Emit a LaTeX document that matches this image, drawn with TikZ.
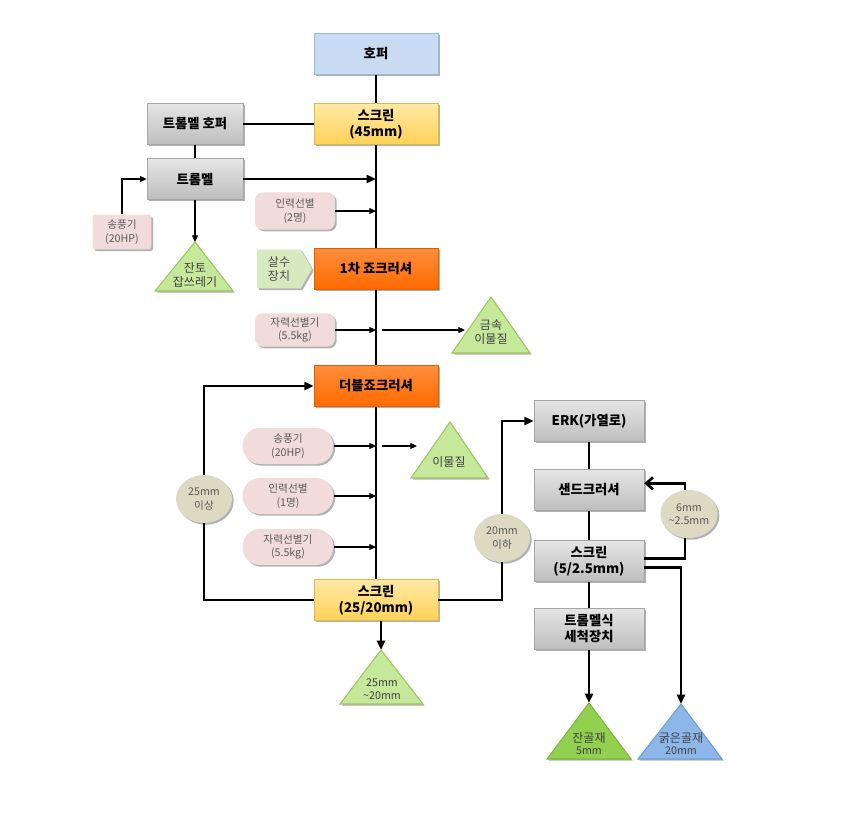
\documentclass[tikz,border=0pt]{standalone}
\usepackage{fontspec}
\setmainfont{Noto Sans CJK KR}
\usetikzlibrary{shapes.geometric,shapes.symbols,arrows.meta,shadows,calc}
\definecolor{gtop}{HTML}{E6E6E6}
\definecolor{gbot}{HTML}{BDBDBD}
\definecolor{gline}{HTML}{A6A6A6}
\definecolor{otop}{HTML}{FF8E3C}
\definecolor{obot}{HTML}{FF6A00}
\definecolor{oline}{HTML}{E06000}
\definecolor{ytop}{HTML}{FFE9A6}
\definecolor{ybot}{HTML}{FFD257}
\definecolor{yline}{HTML}{E0B650}
\definecolor{bfill}{HTML}{C9DBF2}
\definecolor{bline}{HTML}{9DB8DA}
\definecolor{pfill}{HTML}{F2DCDB}
\definecolor{ptext}{HTML}{595959}
\definecolor{tan}{HTML}{DDD9C3}
\definecolor{lgreen}{HTML}{C6E89A}
\definecolor{lgline}{HTML}{9CC65E}
\definecolor{dgreen}{HTML}{92D050}
\definecolor{dgline}{HTML}{7DB83E}
\definecolor{tblue}{HTML}{8DB7E8}
\definecolor{tbline}{HTML}{6E9DD6}
\definecolor{sgreen}{HTML}{D7E9BF}
\tikzset{
  shad/.style={drop shadow={shadow xshift=1.3pt,shadow yshift=-1.3pt,opacity=0.3,fill=black}},
  base/.style={rectangle, minimum width=93pt, minimum height=31pt, align=center,
    font=\fontsize{10}{12}\selectfont\bfseries, inner sep=1pt, shad},
  graybox/.style={base, top color=gtop, bottom color=gbot, draw=gline},
  orangebox/.style={base, top color=otop, bottom color=obot, draw=oline},
  yellowbox/.style={base, top color=ytop, bottom color=ybot, draw=yline},
  bluebox/.style={base, fill=bfill, draw=bline},
  pinkbox/.style={rectangle, fill=pfill, text=ptext, align=center, inner sep=1pt,
    font=\fontsize{8}{10}\selectfont, shad},
  circ/.style={ellipse, fill=tan, text=ptext, align=center, inner sep=0pt,
    minimum width=42pt, minimum height=36pt, font=\fontsize{8}{10}\selectfont, shad},
  tritext/.style={align=center, text=black!75, inner sep=0pt, font=\fontsize{9}{11}\selectfont},
  thickl/.style={line width=2pt},
  thickarr/.style={line width=2pt, -{Triangle[length=7pt,width=6pt]}},
  thinarr/.style={line width=0.8pt, -{Triangle[length=5pt,width=4.5pt]}},
}
\begin{document}
\begin{tikzpicture}[x=0.75pt,y=-0.75pt]
\useasboundingbox (0,0) rectangle (847,822);

% triangles
\path[fill=lgreen, draw=lgline, line width=0.8pt, shad] (155,291) -- (195,242) -- (233,291) -- cycle;
\coordinate (tJanto) at (195,242);
\node[tritext] (tJantoL) at (195,275) {잔토\\잡쓰레기};

\path[fill=lgreen, draw=lgline, line width=0.8pt, shad] (452,353) -- (491,297) -- (530,353) -- cycle;
\coordinate (tMetal) at (465,330);
\node[tritext] (tMetalL) at (491,332) {금속\\이물질};

\path[fill=lgreen, draw=lgline, line width=0.8pt, shad] (411,478) -- (450,422) -- (488,478) -- cycle;
\coordinate (tForeign) at (417,446);
\node[tritext] (tForeignL) at (449,462) {이물질};

\path[fill=lgreen, draw=lgline, line width=0.8pt, shad] (340,704) -- (381,650) -- (423,704) -- cycle;
\coordinate (tMid) at (381,650);
\node[tritext, font=\fontsize{8}{10}\selectfont] (tMidL) at (382,689) {25mm\\\textasciitilde20mm};

\path[fill=dgreen, draw=dgline, line width=0.8pt, shad] (547,759) -- (589,703) -- (631,759) -- cycle;
\coordinate (tFine) at (589,703);
\node[tritext] (tFineL) at (589,744) {잔골재\\[-2pt]{\fontsize{8}{10}\selectfont 5mm}};

\path[fill=tblue, draw=tbline, line width=0.8pt, shad] (638,759) -- (681,704) -- (722,759) -- cycle;
\coordinate (tCoarse) at (681,704);
\node[tritext] (tCoarseL) at (681,744) {굵은골재\\[-2pt]{\fontsize{8}{10}\selectfont 20mm}};

% main column
\node[bluebox] (hopper) at (376,54) {호퍼};
\node[yellowbox] (scrA) at (376,124) {스크린\\(45mm)};
\node[graybox, minimum width=72pt] (thop) at (195,124) {트롬멜 호퍼};
\node[graybox, minimum width=72pt] (trom) at (195,179) {트롬멜};
\node[pinkbox, minimum width=44pt, minimum height=26pt, rounded corners=2pt] (blowA) at (122,232) {송풍기\\(20HP)};
\node[pinkbox, minimum width=60pt, minimum height=28pt, rounded corners=6pt] (pickA) at (295,211) {인력선별\\(2명)};
\node[signal, signal to=east, signal pointer angle=120, fill=sgreen, text=black!70, align=center,
  minimum width=41pt, minimum height=29pt, inner sep=1pt, font=\fontsize{9}{11}\selectfont, shad] (spray) at (279,269) {살수\\장치};
\node[orangebox] (jawA) at (376,269) {1차 죠크러셔};
\node[pinkbox, minimum width=60pt, minimum height=25pt, rounded corners=6pt] (magA) at (295,330) {자력선별기\\(5.5kg)};
\node[orangebox] (jawB) at (376,386) {더블죠크러셔};
\node[pinkbox, minimum width=68pt, minimum height=27pt, rounded corners=13pt] (blowB) at (288,446) {송풍기\\(20HP)};
\node[pinkbox, minimum width=68pt, minimum height=27pt, rounded corners=13pt] (pickB) at (288,496) {인력선별\\(1명)};
\node[pinkbox, minimum width=68pt, minimum height=27pt, rounded corners=13pt] (magB) at (288,547) {자력선별기\\(5.5kg)};
\node[yellowbox] (scrB) at (376,600) {스크린\\(25/20mm)};
\node[circ] (cBig) at (204,499) {25mm\\이상};
\node[circ] (cSmall) at (502,538) {20mm\\이하};

% right column
\node[graybox, minimum width=82.5pt] (erk) at (589,421) {ERK(가열로)};
\node[graybox, minimum width=82.5pt] (sand) at (589,490) {샌드크러셔};
\node[graybox, minimum width=82.5pt] (scrC) at (589,561) {스크린\\(5/2.5mm)};
\node[graybox, minimum width=82.5pt] (wash) at (589,629) {트롬멜식\\세척장치};
\node[circ] (cSand) at (689,514) {6mm\\\textasciitilde2.5mm};

% connectors
\draw[thickl] (hopper) -- (scrA);
\draw[thickl] (thop) -- (scrA);
\draw[thickl] (thop) -- (trom);
\draw[thickarr] (trom) -- (trom -| scrA);
\draw[thinarr] (blowA.north) |- (trom.west);
\draw[thinarr] (trom) -- (tJanto);
\draw[thinarr] (pickA) -- (pickA -| scrA);
\draw[thickl] (scrA) -- (jawA);
\draw[thickl] (jawA) -- (jawB);
\draw[thinarr] (magA) -- (magA -| jawA);
\draw[thinarr] ($(magA -| jawA)+(6,0)$) -- (tMetal);
\draw[thickl] (jawB) -- (scrB);
\draw[thinarr] (blowB) -- (blowB -| jawB);
\draw[thinarr] ($(blowB -| jawB)+(6,0)$) -- (tForeign);
\draw[thinarr] (pickB) -- (pickB -| jawB);
\draw[thinarr] (magB) -- (magB -| jawB);
\draw[thickl] (scrB) -| (cBig);
\draw[thickarr] (cBig) |- (jawB);
\draw[thickarr] (tMid |- scrB.south) -- (tMid);
\draw[thickl] (scrB) -| (cSmall);
\draw[thickarr] (cSmall) |- (erk);
\draw[thickl] (erk) -- (sand);
\draw[thickl] (sand) -- (scrC);
\draw[thickl] (scrC) -- (wash);
\draw[thickl] ([yshift=2pt]scrC.east) -| ([xshift=-3pt]cSand.south);
\draw[thickl, -{Straight Barb[length=5pt,width=9pt]}] ([xshift=-3pt]cSand.north) |- ([yshift=5pt]sand.east);
\draw[thickarr] ([yshift=-5pt]scrC.east) -| (tCoarse);
\draw[thickarr] (wash) -- (tFine);
\end{tikzpicture}
\end{document}
